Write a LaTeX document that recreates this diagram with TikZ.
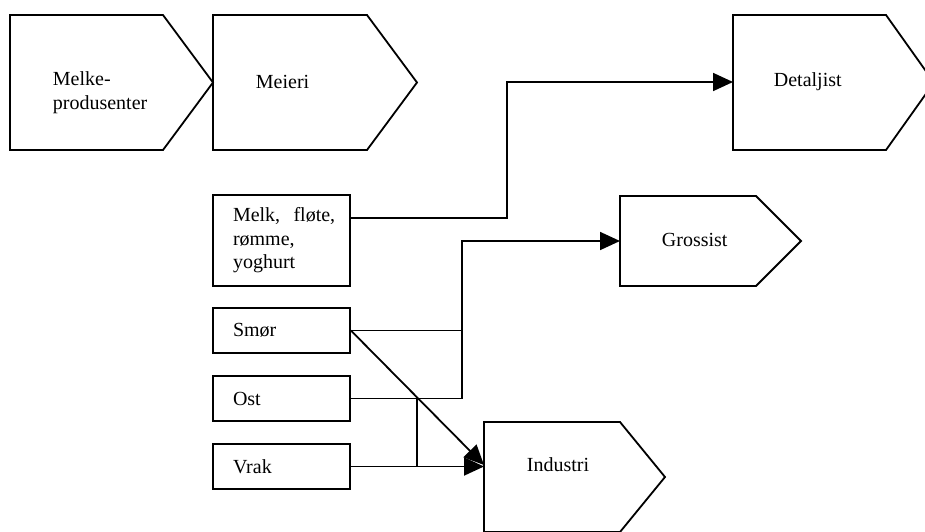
\documentclass[tikz,border=0pt]{standalone}
\usepackage{fontspec}
\setmainfont{Liberation Serif}
\usetikzlibrary{arrows.meta}
\begin{document}
\begin{tikzpicture}[x=1pt,y=-1pt,
  line width=1.8pt, line join=miter,
  every node/.style={font=\fontsize{20}{23.5}\selectfont},
  box/.style={draw, rectangle, minimum width=137pt, text width=97pt, inner xsep=20pt, inner ysep=0pt, align=left},
  lbl/.style={anchor=west, inner sep=0pt, align=left},
  arr/.style={-{Triangle[length=20pt,width=18pt]}},
  chev/.style={draw, line join=miter}]
\useasboundingbox (0,0) rectangle (925,531);
% chevrons
\draw[chev] (10,15) -- (163,15) -- (213,82.5) -- (163,150) -- (10,150) -- cycle;
\draw[chev] (213,15) -- (367,15) -- (417,82.5) -- (367,150) -- (213,150) -- cycle;
\draw[chev] (733,15) -- (886,15) -- (934,82.5) -- (886,150) -- (733,150) -- cycle;
\draw[chev] (620,196) -- (756,196) -- (801,241) -- (756,286) -- (620,286) -- cycle;
\draw[chev] (484,422) -- (620,422) -- (665,477) -- (620,532) -- (484,532) -- cycle;
% labels
\node[lbl] (prod) at (52,92.5) {Melke-\\produsenter};
\node[lbl] (meieri) at (255,82) {Meieri};
\node[lbl] (detaljist) at (773,82) {Detaljist};
\node[lbl] (grossist) at (661,240) {Grossist};
\node[lbl] (industri) at (526,465) {Industri};
% product boxes
\node[box, minimum height=91pt] (melk) at (281.5,240.5) {\mbox{Melk,\ \ fløte,}\\rømme,\\yoghurt};
\node[box, minimum height=45pt] (smor) at (281.5,330.5) {Smør};
\node[box, minimum height=45pt] (ost) at (281.5,398.5) {Ost};
\node[box, minimum height=45pt] (vrak) at (281.5,466.5) {Vrak};
% connector points
\coordinate (detIn) at (733,82);
\coordinate (j1) at (507,82);
\coordinate (grosIn) at (620,241);
\coordinate (j2) at (462,241);
\coordinate (j3) at (417,398.5);
\coordinate (indIn) at (484,466.5);
\coordinate (indDiag) at (484,465);
% connectors
\draw[arr] ([yshift=22.5pt]melk.east) -| (j1) -- (detIn);
\draw[arr] (ost.east) -| (j2) -- (grosIn);
\draw (smor.east) -- (smor.east -| j2);
\draw (j3) -- (vrak.east -| j3);
\draw[arr] (vrak.east) -- (indIn);
\draw[arr] (smor.east) -- (indDiag);
\end{tikzpicture}
\end{document}
